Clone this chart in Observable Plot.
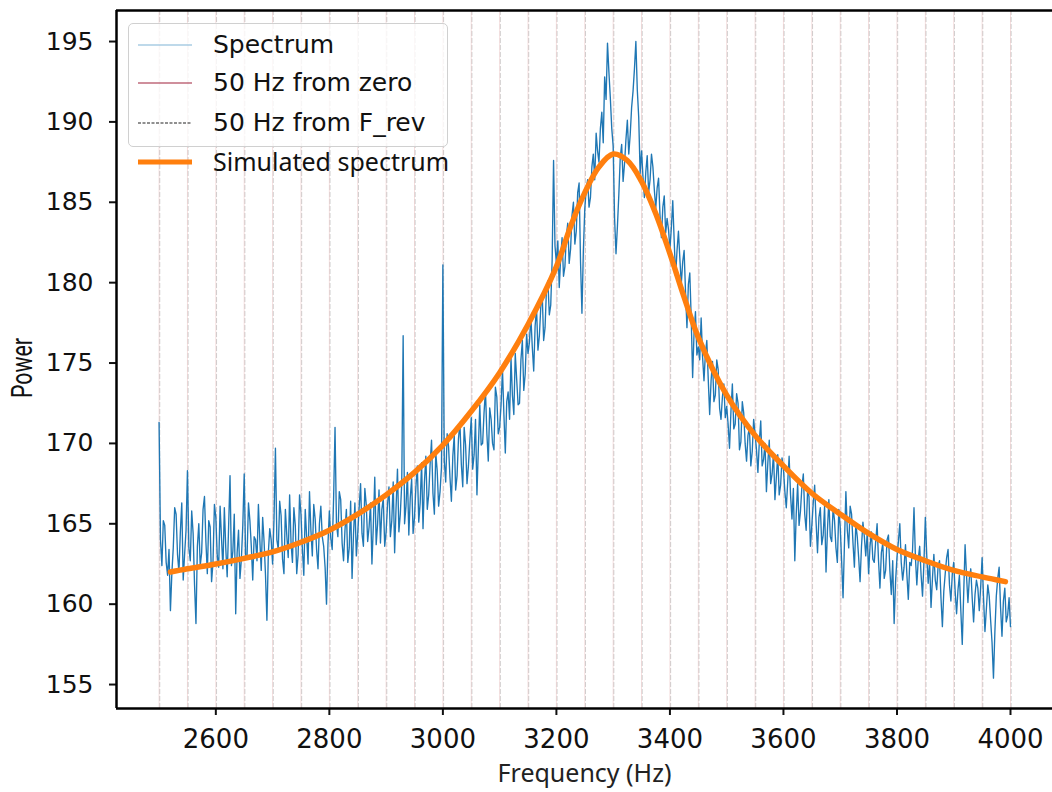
<!DOCTYPE html>
<html>
<head>
<meta charset="utf-8">
<script src="https://cdn.jsdelivr.net/npm/d3@7"></script>
<script src="https://cdn.jsdelivr.net/npm/@observablehq/plot@0.6"></script>
<style>
  html, body { margin: 0; padding: 0; background: white; }
  #wrap { position: relative; width: 1052px; height: 792px; }
  .leg { position: absolute; font-size: 25px; color: #111; line-height: 1; white-space: nowrap; }
  .legbox { position: absolute; left: 128px; top: 23px; width: 318px; height: 122px;
            border: 1px solid #d0d0d0; border-radius: 5px; background: rgba(255,255,255,0.8); }
</style>
</head>
<body>
<div id="wrap"></div>
<script>
// ---- data ----
// spectrum read at 2500, 2505, ... 4000 Hz
const specStart = 2500, specStep = 5;
const spectrumPower = [
  171.3, 162.4, 164.9, 161.8, 159.6, 163.5, 165.6, 162.0, 166.3, 163.1,
  168.3, 162.7, 164.4, 158.8, 165.0, 163.2, 166.7, 161.9, 164.8, 162.6,
  165.4, 162.3, 164.1, 166.0, 161.7, 168.0, 163.3, 159.4, 164.6, 162.8,
  168.1, 163.0, 165.2, 161.5, 164.0, 166.2, 162.1, 163.9, 159.0, 164.7,
  162.5, 169.7, 163.4, 165.5, 161.9, 164.3, 166.8, 162.6, 164.9, 163.1,
  165.6, 161.8, 164.2, 167.0, 163.0, 165.3, 162.2, 166.1, 163.6, 160.0,
  165.8, 163.4, 171.0, 164.2, 166.5, 162.7, 165.9, 163.5, 161.6, 166.3,
  164.4, 167.5, 163.6, 166.2, 164.8, 162.5, 167.9, 165.0, 163.8, 166.6,
  164.5, 167.3, 165.2, 163.2, 168.4, 165.6, 176.7, 166.1, 164.3, 167.8,
  165.4, 168.6, 166.3, 164.7, 169.2, 166.8, 170.2, 165.6, 168.3, 167.0,
  181.1, 167.6, 169.8, 166.4, 170.5, 168.0, 171.3, 167.3, 169.9, 168.6,
  171.6, 169.3, 166.8, 172.4, 170.0, 173.3, 168.9, 171.5, 169.6, 172.9,
  171.0, 174.6, 169.4, 173.2, 175.3, 171.8, 174.0, 172.5, 176.4, 174.3,
  175.6, 177.9, 174.5, 178.4, 176.7, 179.3, 177.2, 180.1, 178.6, 187.6,
  181.2, 179.7, 182.8, 181.0, 183.7, 182.1, 185.0, 183.2, 186.2, 178.1,
  184.6, 186.4, 185.3, 188.0, 189.3, 187.5, 190.6, 192.8, 194.9, 191.5,
  188.5, 181.8, 185.5, 188.6, 187.4, 190.1, 189.2, 191.9, 195.0, 190.3,
  188.2, 185.3, 187.9, 186.4, 187.2, 184.6, 186.5, 182.8, 185.4, 184.0,
  182.1, 185.1, 180.4, 183.2, 179.9, 182.0, 177.2, 180.6, 174.1, 178.2,
  176.0, 177.8, 173.9, 176.4, 171.8, 175.1, 173.0, 174.6, 171.5, 173.7,
  172.3, 169.7, 173.7, 171.2, 172.5, 170.1, 171.9, 168.9, 171.0, 169.5,
  170.6, 168.2, 171.4, 169.0, 167.0, 170.2, 168.1, 166.5, 169.3, 167.4,
  168.4, 166.0, 169.2, 165.3, 162.7, 167.5, 165.8, 168.1, 164.6, 166.7,
  164.9, 167.4, 163.2, 166.0, 164.3, 162.0, 166.5, 163.9, 165.2, 162.6,
  164.8, 160.4, 167.0, 163.5, 165.6, 162.3, 164.2, 161.4, 165.1, 163.0,
  161.9, 164.5, 162.6, 165.0, 161.0, 163.8, 162.1, 164.3, 160.6, 158.8,
  162.9, 165.0, 161.5, 163.7, 160.3, 162.4, 166.0, 161.2, 163.6, 160.5,
  165.4, 161.3, 159.8, 163.1, 160.9, 162.7, 158.6, 161.9, 163.4, 160.2,
  162.6, 159.4, 161.8, 157.5, 163.7, 160.1, 162.2, 158.9, 161.5, 159.6,
  162.9, 158.3, 161.2, 159.0, 155.4, 160.5, 162.3, 158.0, 161.0, 159.3,
  158.6
];
// spectrum read between those, at 2502.5, 2507.5, ... 3997.5 Hz
const spectrumPowerMid = [
  164.0, 165.2, 162.6, 163.4, 161.9, 166.0, 163.1, 164.5, 161.5, 164.6,
  163.5, 165.8, 161.2, 163.6, 162.4, 165.9, 163.9, 165.2, 161.4, 166.2,
  163.0, 166.1, 162.2, 163.5, 164.8, 162.4, 165.6, 163.2, 161.6, 164.9,
  162.9, 166.3, 163.6, 164.2, 162.7, 164.0, 165.4, 161.8, 163.2, 164.0,
  165.3, 164.0, 166.4, 162.8, 165.9, 162.9, 163.8, 166.0, 161.9, 166.8,
  163.4, 165.9, 162.5, 164.6, 166.2, 163.4, 165.0, 164.2, 162.3, 163.7,
  164.1, 166.6, 165.0, 167.0, 163.8, 164.6, 162.6, 166.4, 164.3, 163.0,
  166.0, 164.4, 167.2, 163.9, 166.3, 164.9, 163.7, 167.1, 165.9, 163.6,
  166.2, 164.2, 167.6, 166.0, 164.5, 167.5, 165.0, 168.2, 166.6, 164.4,
  167.3, 165.1, 168.8, 167.6, 165.9, 168.7, 166.9, 169.4, 166.1, 168.5,
  168.9, 170.6, 167.9, 169.2, 167.1, 170.3, 168.7, 171.0, 167.5, 170.2,
  168.4, 171.5, 169.7, 169.9, 171.9, 170.6, 172.2, 170.0, 173.5, 170.6,
  172.4, 171.8, 172.6, 171.5, 173.0, 175.6, 172.4, 175.2, 173.3, 176.8,
  176.3, 176.0, 177.3, 175.8, 178.5, 176.4, 179.6, 178.0, 181.4, 182.3,
  182.6, 181.5, 180.4, 182.9, 181.2, 184.2, 182.4, 185.6, 181.3, 182.0,
  185.8, 184.7, 187.2, 186.4, 188.2, 189.6, 188.7, 191.4, 193.1, 189.6,
  184.0, 183.5, 187.8, 186.3, 188.9, 188.0, 190.9, 193.3, 192.0, 186.8,
  186.6, 186.9, 185.6, 188.0, 185.8, 185.9, 184.2, 184.7, 183.1, 183.3,
  183.4, 182.6, 182.0, 181.5, 181.3, 179.4, 179.9, 177.8, 176.9, 175.5,
  175.2, 175.4, 175.6, 174.0, 173.9, 172.6, 175.2, 172.2, 172.9, 171.6,
  171.2, 172.0, 170.9, 173.1, 169.6, 172.6, 170.0, 170.5, 168.6, 171.5,
  169.6, 170.1, 168.6, 170.0, 168.8, 167.5, 169.4, 167.9, 166.8, 169.1,
  167.0, 167.6, 166.8, 167.2, 165.6, 164.9, 167.3, 165.6, 167.0, 163.6,
  166.3, 165.1, 165.4, 163.7, 166.1, 164.6, 164.2, 166.0, 163.5, 165.9,
  162.7, 163.8, 164.6, 166.1, 163.8, 165.0, 162.9, 163.6, 164.2, 164.4,
  163.6, 162.8, 163.9, 162.7, 163.2, 161.6, 164.0, 162.1, 162.7, 161.4,
  163.9, 162.6, 162.3, 161.8, 162.6, 163.4, 162.9, 162.8, 161.8, 162.6,
  163.0, 162.7, 161.6, 161.5, 162.4, 160.4, 160.8, 162.9, 161.2, 161.9,
  160.8, 160.9, 159.6, 160.6, 161.8, 161.6, 160.4, 160.6, 161.0, 161.1,
  160.4, 159.7, 160.5, 157.6, 158.3, 161.6, 159.8, 160.2, 158.9, 160.4
];
const simFreq  = [2520, 2550, 2600, 2650, 2700, 2750, 2800, 2850, 2900, 2950, 3000, 3050, 3100, 3150, 3200, 3225, 3250, 3275, 3300, 3325, 3350, 3375, 3400, 3425, 3450, 3500, 3550, 3600, 3650, 3700, 3750, 3800, 3850, 3900, 3950, 3991];
const simPower = [162.0, 162.2, 162.5, 162.85, 163.25, 163.85, 164.6, 165.6, 166.8, 168.2, 169.9, 172.0, 174.4, 177.4, 181.0, 183.5, 185.6, 187.2, 188.0, 187.6, 186.3, 184.3, 181.8, 179.1, 176.6, 173.0, 170.5, 168.6, 166.9, 165.6, 164.4, 163.4, 162.7, 162.1, 161.7, 161.4];
const zeroLines = d3.range(2500, 4001, 50);          // 50 Hz from zero
const frevOffset = 1.3;                               // 50 Hz comb from F_rev (slightly shifted)
const xTicks = [2600, 2800, 3000, 3200, 3400, 3600, 3800, 4000];
const yTicks = [155, 160, 165, 170, 175, 180, 185, 190, 195];
const xDomain = [2425, 4074];
const yDomain = [153.51, 196.93];
const legendLabels = ["Spectrum", "50 Hz from zero", "50 Hz from F_rev", "Simulated spectrum"];

const spectrum = [];
spectrumPower.forEach((p, i) => {
  spectrum.push({f: specStart + i * specStep, p});
  if (i < spectrumPowerMid.length) spectrum.push({f: specStart + i * specStep + specStep / 2, p: spectrumPowerMid[i]});
});
const sim = simFreq.map((f, i) => ({f, p: simPower[i]}));
const frevLines = zeroLines.map(f => f + frevOffset);

const chart = Plot.plot({
  width: 1052,
  height: 792,
  marginLeft: 116,
  marginRight: 0,
  marginTop: 10,
  marginBottom: 84,
  style: {background: "white", fontFamily: "DejaVu Sans", color: "#111"},
  x: {domain: xDomain},
  y: {domain: yDomain},
  marks: [
    Plot.ruleX(zeroLines, {stroke: "#b22222", strokeOpacity: 0.15, strokeWidth: 1}),
    Plot.ruleX(frevLines, {stroke: "black", strokeOpacity: 0.17, strokeWidth: 1, strokeDasharray: "5,2"}),
    Plot.line(spectrum, {x: "f", y: "p", stroke: "#1f77b4", strokeWidth: 1.35}),
    Plot.line(sim, {x: "f", y: "p", stroke: "#ff7f0e", strokeWidth: 5.5, curve: "catmull-rom"}),
    Plot.axisX({ticks: xTicks, tickFormat: d => String(d), tickSize: 7, strokeWidth: 2, tickPadding: 14, fontSize: 26, label: null}),
    Plot.axisY({ticks: yTicks, tickFormat: d => String(d), tickSize: 7, strokeWidth: 2, tickPadding: 16, fontSize: 25, label: null}),
    Plot.ruleX([xDomain[0]], {stroke: "black", strokeWidth: 2.5}),
    Plot.ruleY([yDomain[0]], {stroke: "black", strokeWidth: 2.5}),
    Plot.ruleY([yDomain[1]], {stroke: "black", strokeWidth: 2.5}),
    Plot.text(["Power"], {text: d => d, frameAnchor: "left", rotate: -90,
      fontFamily: "Liberation Sans Narrow, Roboto, sans-serif", fontSize: 29, fill: "#111"}),
    Plot.text(["Frequency (Hz)"], {text: d => d, frameAnchor: "bottom", dy: 73,
      fontFamily: "Noto Sans", fontSize: 25, fill: "#222"})
  ]
});

const wrap = document.getElementById("wrap");
wrap.append(chart);

// place the rotated y-axis title like the reference (condensed, centred at x≈22)
d3.select(chart).selectAll("text").filter(function() { return this.textContent === "Power"; })
  .each(function() {
    const t = d3.select(this);
    if (this.parentNode && this.parentNode.removeAttribute) this.parentNode.removeAttribute("transform");
    t.attr("x", null).attr("y", null)
     .attr("transform", "translate(22,368) rotate(-90)")
     .attr("text-anchor", "middle")
     .attr("dy", "0.35em")
     .attr("textLength", 60)
     .attr("lengthAdjust", "spacingAndGlyphs");
  });

// legend (HTML overlay)
const box = document.createElement("div");
box.className = "legbox";
wrap.append(box);
const rows = [
  {y: 45, label: legendLabels[0], stroke: "#7fb3d5", w: 1.2, dash: null, font: "DejaVu Sans"},
  {y: 83, label: legendLabels[1], stroke: "#a0203a", w: 1.2, dash: null, font: "DejaVu Sans"},
  {y: 123, label: legendLabels[2], stroke: "#222", w: 1.2, dash: "3,1.5", font: "DejaVu Sans"},
  {y: 162, label: legendLabels[3], stroke: "#ff7f0e", w: 5, dash: null, font: "Noto Sans"}
];
for (const r of rows) {
  const s = document.createElementNS("http://www.w3.org/2000/svg", "svg");
  s.setAttribute("width", 56); s.setAttribute("height", 10);
  s.style.position = "absolute"; s.style.left = "137px"; s.style.top = (r.y - 5) + "px";
  const l = document.createElementNS("http://www.w3.org/2000/svg", "line");
  l.setAttribute("x1", 1); l.setAttribute("x2", 55); l.setAttribute("y1", 5); l.setAttribute("y2", 5);
  l.setAttribute("stroke", r.stroke); l.setAttribute("stroke-width", r.w);
  if (r.dash) l.setAttribute("stroke-dasharray", r.dash);
  s.append(l);
  wrap.append(s);
  const t = document.createElement("div");
  t.className = "leg";
  t.textContent = r.label;
  t.style.left = "213px";
  t.style.top = (r.y - 13) + "px";
  t.style.fontFamily = r.font;
  wrap.append(t);
}
</script>
</body>
</html>
